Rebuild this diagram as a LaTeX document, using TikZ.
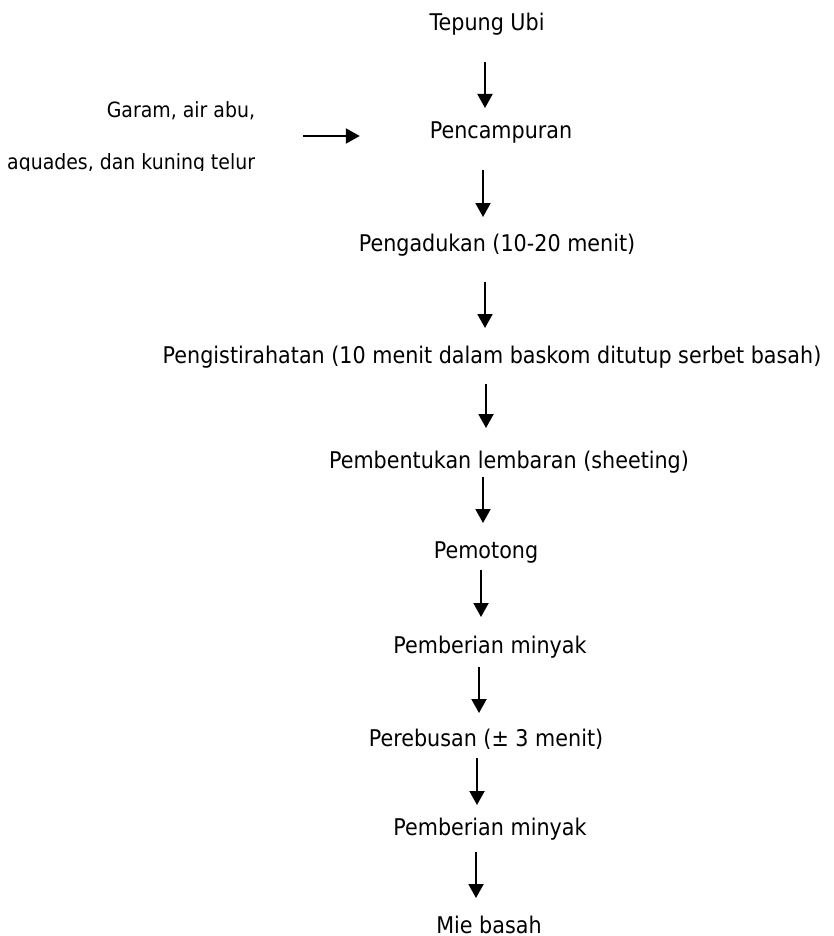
\documentclass[tikz,border=0pt]{standalone}
\usepackage{fontspec}
\newfontfamily\flowfont{DejaVu Sans}[FakeStretch=0.9]
\usepackage{tikz}
\usetikzlibrary{calc}
\usetikzlibrary{arrows.meta}

\begin{document}
\begin{tikzpicture}[x=1pt, y=-1pt]

\tikzset{%
stage/.style={font=\flowfont\fontsize{23}{27}\selectfont, inner sep=0, outer sep=0, text height=16.8pt, text depth=0pt},%
addition/.style={font=\flowfont\fontsize{21}{25}\selectfont, anchor=east, inner sep=0, outer sep=0, text height=15.3pt, text depth=0pt},%
flow/.style={line width=2pt, -{Triangle[length=14pt, width=15pt]}}%
}

% arguments: from node, to node, x of the arrow, gap below from, gap above to
\newcommand{\flowarrow}[5]{%
\path (#3,0 |- #1.center) ++(0,#4) coordinate (#1out) ;
\path (#3,0 |- #2.center) ++(0,-#5) coordinate (#2in) ;
\draw [flow] (#1out) -- (#2in) ;
}

\useasboundingbox (0,0) rectangle (833,936);

% process steps

\node [stage] (tepung) at (487,22) {Tepung Ubi};
\node [stage] (pencampuran) at (501,130) {Pencampuran};
\node [stage] (pengadukan) at (497,243) {Pengadukan (10-20 menit)};
\node [stage] (istirahat) at (492,355) {Pengistirahatan (10 menit dalam baskom ditutup serbet basah)};
\begin{scope}
\clip (0,0) rectangle (833,472);
\node [stage] (lembaran) at (509,460) {Pembentukan lembaran (sheeting)};
\end{scope}
\node [stage] (pemotong) at (486,550) {Pemotong};
\node [stage] (minyaka) at (490,645) {Pemberian minyak};
\node [stage] (rebus) at (486,738) {Perebusan (± 3 menit)};
\node [stage] (minyakb) at (490,827) {Pemberian minyak};
\node [stage] (mie) at (489,925) {Mie basah};

% added ingredients

\node [addition] (garam) at (255,110) {Garam, air abu,};
\begin{scope}
\clip (0,0) rectangle (833,171);
\node [addition] (aquades) at (255,162) {aquades, dan kuning telur};
\end{scope}

% draw arrows

\coordinate (bahan) at ($(garam.east)!0.5!(aquades.east)$);
\draw [flow, shorten <=48pt, shorten >=70pt] (bahan) -- (bahan -| pencampuran.west);

\flowarrow{tepung}{pencampuran}{485}{40}{22}
\flowarrow{pencampuran}{pengadukan}{483}{40}{26}
\flowarrow{pengadukan}{istirahat}{485}{39}{27}
\flowarrow{istirahat}{lembaran}{486}{29}{32}
\flowarrow{lembaran}{pemotong}{483}{17}{27}
\flowarrow{pemotong}{minyaka}{481}{20}{28}
\flowarrow{minyaka}{rebus}{479}{22}{25}
\flowarrow{rebus}{minyakb}{477}{20}{22}
\flowarrow{minyakb}{mie}{476}{25}{27}

\end{tikzpicture}
\end{document}
